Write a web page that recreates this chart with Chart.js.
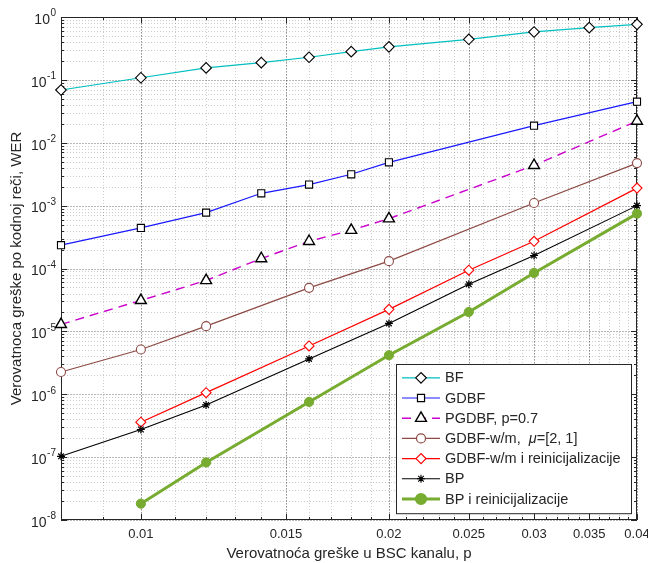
<!DOCTYPE html>
<html>
<head>
<meta charset="utf-8">
<script src="https://cdn.jsdelivr.net/npm/chart.js@4.4.1/dist/chart.umd.min.js"></script>
<style>
  body { margin: 0; background: #fff; }
  #wrap { width: 648px; height: 563px; }
</style>
</head>
<body>
<div id="wrap"><canvas id="wer-chart" width="648" height="563"></canvas></div>
<script>
// Axis settings
const xTickVals = [0.01, 0.015, 0.02, 0.025, 0.03, 0.035, 0.04];
const yDecades = [-8, -7, -6, -5, -4, -3, -2, -1, 0];

// BF
const xBF = [0.008, 0.01, 0.012, 0.014, 0.016, 0.018, 0.02, 0.025, 0.03, 0.035, 0.04];
const yBF = [0.069, 0.108, 0.155, 0.188, 0.229, 0.281, 0.335, 0.442, 0.578, 0.676, 0.765];
// GDBF
const xGDBF = [0.008, 0.01, 0.012, 0.014, 0.016, 0.018, 0.02, 0.03, 0.04];
const yGDBF = [2.35e-4, 4.42e-4, 7.74e-4, 1.57e-3, 2.16e-3, 3.15e-3, 4.88e-3, 1.87e-2, 4.5e-2];
// PGDBF, p=0.7
const xPGDBF = [0.008, 0.01, 0.012, 0.014, 0.016, 0.018, 0.02, 0.03, 0.04];
const yPGDBF = [1.29e-5, 3.11e-5, 6.45e-5, 1.44e-4, 2.71e-4, 4.06e-4, 6.2e-4, 4.37e-3, 2.21e-2];
// GDBF-w/m
const xWM = [0.008, 0.01, 0.012, 0.016, 0.02, 0.03, 0.04];
const yWM = [2.26e-6, 5.14e-6, 1.21e-5, 4.92e-5, 1.31e-4, 1.1e-3, 4.75e-3];
// GDBF-w/m i reinicijalizacije
const xWMR = [0.01, 0.012, 0.016, 0.02, 0.025, 0.03, 0.04];
const yWMR = [3.59e-7, 1.06e-6, 5.86e-6, 2.24e-5, 9.4e-5, 2.71e-4, 1.9e-3];
// BP
const xBP = [0.008, 0.01, 0.012, 0.016, 0.02, 0.025, 0.03, 0.04];
const yBP = [1.03e-7, 2.75e-7, 6.76e-7, 3.64e-6, 1.34e-5, 5.63e-5, 1.61e-4, 1.0e-3];
// BP i reinicijalizacije
const xBPR = [0.01, 0.012, 0.016, 0.02, 0.025, 0.03, 0.04];
const yBPR = [1.82e-8, 8.24e-8, 7.55e-7, 4.17e-6, 2.03e-5, 8.5e-5, 7.46e-4];

const FONT = "'Liberation Sans', Arial, Helvetica, sans-serif";
const TEXT = '#262626';

function pts(xs, ys) {
    return xs.map((x, i) => ({ x: x, y: ys[i] }));
}

// minor grid positions (every 0.001 on x, 2..9 per decade on y)
const xMinor = [];
for (let k = 8; k <= 40; k++) xMinor.push(k / 1000);
const yMinor = [];
yDecades.slice(0, -1).forEach(d => {
    for (let k = 2; k <= 9; k++) yMinor.push(k * Math.pow(10, d));
});

// Grid, inward ticks, box and 10^n labels in MATLAB style
const matlabAxes = {
    id: 'matlabAxes',
    beforeDatasetsDraw(chart) {
        const { ctx, chartArea: { left, right, top, bottom }, scales: { x, y } } = chart;
        const px = v => Math.round(x.getPixelForValue(v)) + 0.5;
        const py = v => Math.round(y.getPixelForValue(v)) + 0.5;
        ctx.save();
        ctx.lineWidth = 1;

        // minor grid
        ctx.setLineDash([1, 2]);
        ctx.strokeStyle = 'rgba(0,0,0,0.2)';
        ctx.beginPath();
        xMinor.forEach(v => { const p = px(v); ctx.moveTo(p, top); ctx.lineTo(p, bottom); });
        yMinor.forEach(v => { const p = py(v); ctx.moveTo(left, p); ctx.lineTo(right, p); });
        ctx.stroke();

        // major grid
        ctx.setLineDash([2, 1]);
        ctx.strokeStyle = 'rgba(0,0,0,0.28)';
        ctx.beginPath();
        xTickVals.forEach(v => { const p = px(v); ctx.moveTo(p, top); ctx.lineTo(p, bottom); });
        yDecades.forEach(d => { const p = py(Math.pow(10, d)); ctx.moveTo(left, p); ctx.lineTo(right, p); });
        ctx.stroke();

        // ticks on all four sides
        ctx.setLineDash([]);
        ctx.strokeStyle = '#262626';
        ctx.beginPath();
        xMinor.forEach(v => {
            const p = px(v);
            ctx.moveTo(p, bottom); ctx.lineTo(p, bottom - 3);
            ctx.moveTo(p, top); ctx.lineTo(p, top + 3);
        });
        xTickVals.forEach(v => {
            const p = px(v);
            ctx.moveTo(p, bottom); ctx.lineTo(p, bottom - 6);
            ctx.moveTo(p, top); ctx.lineTo(p, top + 6);
        });
        yMinor.forEach(v => {
            const p = py(v);
            ctx.moveTo(left, p); ctx.lineTo(left + 3, p);
            ctx.moveTo(right, p); ctx.lineTo(right - 3, p);
        });
        yDecades.forEach(d => {
            const p = py(Math.pow(10, d));
            ctx.moveTo(left, p); ctx.lineTo(left + 6, p);
            ctx.moveTo(right, p); ctx.lineTo(right - 6, p);
        });
        ctx.stroke();

        // box
        ctx.strokeStyle = '#262626';
        ctx.strokeRect(left + 0.5, top + 0.5, right - left - 1, bottom - top - 1);

        // y tick labels: 10 with superscript exponent
        ctx.fillStyle = TEXT;
        ctx.textAlign = 'right';
        ctx.textBaseline = 'middle';
        yDecades.forEach(d => {
            const p = y.getPixelForValue(Math.pow(10, d));
            const exp = d === 0 ? '0' : '-' + Math.abs(d);
            ctx.font = '10px ' + FONT;
            const ew = ctx.measureText(exp).width;
            ctx.fillText(exp, left - 5, p - 3.5);
            ctx.font = '14px ' + FONT;
            ctx.fillText('10', left - 5 - ew - 0.5, p + 3);
        });
        ctx.restore();
    },
    afterDraw(chart) {
        // legend box inside the lower right corner
        const { ctx, chartArea: { right, bottom } } = chart;
        const sets = chart.data.datasets;
        const rowH = 20.2;
        const boxW = 235;
        const boxH = 28 + rowH * (sets.length - 1);
        const bx = right - 6 - boxW;
        const by = bottom - 7 - boxH;
        ctx.save();
        ctx.fillStyle = '#fff';
        ctx.fillRect(bx, by, boxW, boxH);
        ctx.strokeStyle = '#262626';
        ctx.lineWidth = 1;
        ctx.strokeRect(Math.round(bx) + 0.5, Math.round(by) + 0.5, boxW, boxH);

        sets.forEach((ds, i) => {
            const cy = by + 14 + i * rowH;
            const x0 = bx + 6, x1 = bx + 44, xm = (x0 + x1) / 2;
            ctx.setLineDash(ds.borderDash || []);
            ctx.strokeStyle = ds.borderColor;
            ctx.lineWidth = ds.borderWidth;
            ctx.beginPath();
            ctx.moveTo(x0, cy); ctx.lineTo(x1, cy);
            ctx.stroke();
            ctx.setLineDash([]);
            ctx.strokeStyle = ds.pointBorderColor;
            ctx.fillStyle = ds.pointBackgroundColor;
            Chart.helpers.drawPoint(ctx, {
                pointStyle: ds.pointStyle,
                radius: ds.pointRadius,
                borderWidth: ds.pointBorderWidth,
                rotation: 0
            }, xm, cy);

            // label, with italic mu
            ctx.fillStyle = TEXT;
            ctx.textAlign = 'left';
            ctx.textBaseline = 'middle';
            let tx = bx + 49;
            ds.label.split(/(μ)/).forEach(part => {
                if (!part) return;
                ctx.font = (part === 'μ' ? 'italic ' : '') + '14.5px ' + FONT;
                ctx.fillText(part, tx, cy + 0.5);
                tx += ctx.measureText(part).width;
            });
        });
        ctx.restore();
    }
};

Chart.defaults.font.family = FONT;
Chart.defaults.color = TEXT;

const ctx = document.getElementById('wer-chart').getContext('2d');
const werChart = new Chart(ctx, {
    type: 'line',
    data: {
        datasets: [{
            label: 'BF',
            data: pts(xBF, yBF),
            borderColor: 'rgb(0,191,191)',
            borderWidth: 1.2,
            pointStyle: 'rectRot',
            pointRadius: 5.3,
            pointBorderColor: '#000',
            pointBackgroundColor: '#fff',
            pointBorderWidth: 1.1,
            order: 6
        }, {
            label: 'GDBF',
            data: pts(xGDBF, yGDBF),
            borderColor: 'rgb(25,25,255)',
            borderWidth: 1.2,
            pointStyle: 'rect',
            pointRadius: 5,
            pointBorderColor: '#000',
            pointBackgroundColor: '#fff',
            pointBorderWidth: 1.1,
            order: 5
        }, {
            label: 'PGDBF, p=0.7',
            data: pts(xPGDBF, yPGDBF),
            borderColor: 'rgb(204,0,204)',
            borderWidth: 1.4,
            borderDash: [9, 6],
            pointStyle: 'triangle',
            pointRadius: 6.3,
            pointBorderColor: '#000',
            pointBackgroundColor: '#fff',
            pointBorderWidth: 1.4,
            order: 4
        }, {
            label: 'GDBF-w/m,  μ=[2, 1]',
            data: pts(xWM, yWM),
            borderColor: 'rgb(140,74,68)',
            borderWidth: 1.2,
            pointStyle: 'circle',
            pointRadius: 4.5,
            pointBorderColor: 'rgb(140,74,68)',
            pointBackgroundColor: '#fff',
            pointBorderWidth: 1.1,
            order: 3
        }, {
            label: 'GDBF-w/m i reinicijalizacije',
            data: pts(xWMR, yWMR),
            borderColor: 'rgb(255,0,0)',
            borderWidth: 1.2,
            pointStyle: 'rectRot',
            pointRadius: 5,
            pointBorderColor: 'rgb(255,0,0)',
            pointBackgroundColor: '#fff',
            pointBorderWidth: 1.1,
            order: 2
        }, {
            label: 'BP',
            data: pts(xBP, yBP),
            borderColor: '#000',
            borderWidth: 1.1,
            pointStyle: 'star',
            pointRadius: 4,
            pointBorderColor: '#000',
            pointBackgroundColor: '#000',
            pointBorderWidth: 1.2,
            order: 1
        }, {
            label: 'BP i reinicijalizacije',
            data: pts(xBPR, yBPR),
            borderColor: 'rgb(119,172,48)',
            borderWidth: 3,
            pointStyle: 'circle',
            pointRadius: 4.6,
            pointBorderColor: 'rgb(119,172,48)',
            pointBackgroundColor: 'rgb(119,172,48)',
            pointBorderWidth: 1,
            order: 0
        }]
    },
    options: {
        responsive: false,
        animation: false,
        devicePixelRatio: 1,
        layout: { padding: { top: 17, right: 11, left: 0, bottom: 0 } },
        datasets: { line: { fill: false, tension: 0, clip: false } },
        plugins: {
            legend: { display: false },
            tooltip: { enabled: false }
        },
        scales: {
            x: {
                type: 'logarithmic',
                min: 0.008,
                max: 0.04,
                afterBuildTicks: axis => { axis.ticks = xTickVals.map(v => ({ value: v })); },
                afterFit: axis => { axis.height = 43; axis.paddingLeft = 0; axis.paddingRight = 0; },
                grid: { display: false, drawTicks: false },
                border: { display: false },
                ticks: {
                    autoSkip: false,
                    maxRotation: 0,
                    padding: 7,
                    color: TEXT,
                    font: { size: 13 },
                    callback: v => String(v)
                },
                title: {
                    display: true,
                    text: 'Verovatnoća greške u BSC kanalu, p',
                    color: TEXT,
                    font: { size: 15 },
                    padding: { top: 0, bottom: 0 }
                }
            },
            y: {
                type: 'logarithmic',
                min: 1e-8,
                max: 1,
                afterBuildTicks: axis => { axis.ticks = yDecades.map(d => ({ value: Math.pow(10, d) })); },
                afterFit: axis => { axis.width = 61; axis.paddingTop = 0; axis.paddingBottom = 0; },
                grid: { display: false, drawTicks: false },
                border: { display: false },
                ticks: { display: false },
                title: {
                    display: true,
                    text: 'Verovatnoca greške po kodnoj reči, WER',
                    color: TEXT,
                    font: { size: 15 },
                    padding: { top: 8, bottom: 0 }
                }
            }
        }
    },
    plugins: [matlabAxes]
});
</script>
</body>
</html>
